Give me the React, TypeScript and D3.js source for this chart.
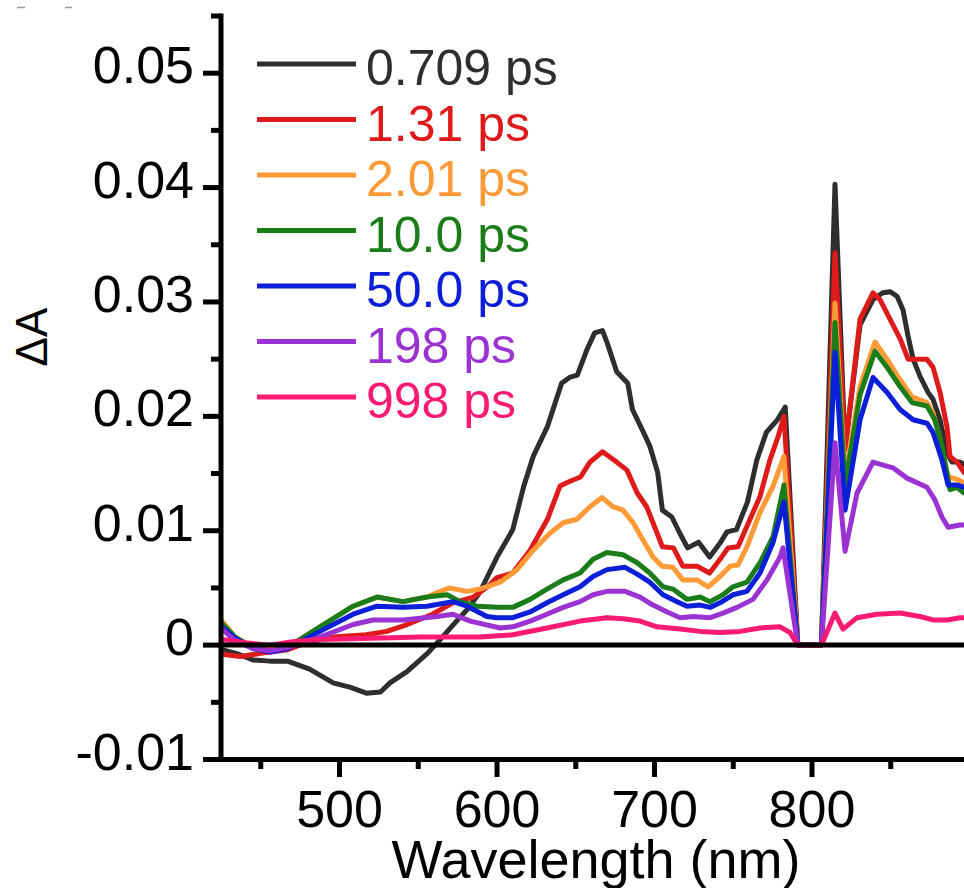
import React from "react";
import * as d3 from "d3";

type P = [number, number];

const seriesLabels = ["0.709 ps", "1.31 ps", "2.01 ps", "10.0 ps", "50.0 ps", "198 ps", "998 ps"];
const seriesColors = ["#2e2e2e", "#de1a1a", "#ff9a36", "#1a7d1a", "#0b1ed8", "#9b32d2", "#fd1a73"];

const s0709: P[] = [[425.4,-0.0004],[436,-0.0008],[445,-0.0013],[456,-0.0014],[467,-0.0014],[481,-0.0021],[496,-0.0033],[507,-0.0037],[517,-0.0042],[526,-0.0041],[532,-0.0033],[543,-0.0023],[556,-0.0007],[564,0.0005],[575,0.0022],[581,0.0031],[589,0.0046],[600,0.0077],[610,0.0101],[617,0.0139],[623,0.0165],[632,0.0191],[641,0.0229],[646,0.0234],[651,0.0236],[657,0.0258],[662,0.0273],[667,0.0275],[670,0.0264],[676,0.0239],[683,0.0229],[686,0.0206],[693,0.0186],[697,0.0174],[702,0.0151],[705,0.0118],[711,0.0112],[716,0.0098],[721,0.0085],[728,0.009],[735,0.0077],[742,0.009],[746,0.0099],[752,0.0101],[759,0.0125],[765,0.0162],[771,0.0186],[778,0.0197],[783,0.0208],[791,0],[806,0],[814.6,0.0403],[821,0.0171],[830.5,0.028],[838.7,0.0302],[845,0.0308],[849.5,0.0309],[854,0.0305],[857.8,0.0293],[861,0.027],[864.2,0.025],[868.6,0.0235],[873.7,0.0221],[876.8,0.0215],[881.3,0.0197],[885.7,0.0168],[888.9,0.016],[894,0.016],[900,0.0155]];

const s131: P[] = [[425.4,-0.0008],[437,-0.001],[451,-0.0007],[467,-0.0004],[481,0.0003],[496,0.0007],[517,0.0009],[530,0.0012],[543,0.0018],[559,0.0027],[572,0.0037],[585,0.0042],[594,0.0051],[600,0.0059],[610,0.0063],[621,0.0083],[632,0.011],[640,0.0139],[646,0.0143],[653,0.0147],[659,0.016],[667,0.0169],[676,0.016],[682.5,0.0153],[689,0.0133],[695,0.0121],[701.6,0.0098],[705,0.0086],[712,0.0085],[718,0.0069],[727,0.0069],[735,0.0063],[741.6,0.0075],[746.7,0.0085],[753,0.0086],[758.7,0.0104],[767,0.013],[773.3,0.0162],[778.4,0.0182],[782.2,0.02],[791,0],[806,0],[814.6,0.0343],[821,0.0171],[830.5,0.0285],[838.7,0.0308],[843.2,0.0302],[849.5,0.0285],[855.9,0.0268],[861,0.025],[866.7,0.025],[873,0.025],[876.8,0.0243],[881.3,0.0221],[885.7,0.0191],[887.6,0.0165],[892.1,0.016],[896.5,0.0151],[900,0.0148]];

const s201: P[] = [[425.4,0.0021],[433.7,0.0007],[445,-0.0002],[456,-0.0004],[467,-0.0002],[487.6,0.0016],[508.6,0.0034],[523.8,0.0042],[540.3,0.0038],[555.6,0.0042],[562,0.0046],[570,0.005],[581,0.0047],[589,0.0049],[602,0.0055],[612.7,0.0066],[623,0.0083],[633.7,0.0098],[642,0.0107],[650.8,0.011],[659,0.0121],[666.7,0.0129],[673.7,0.0121],[680,0.0118],[686.4,0.0107],[692.7,0.0092],[699,0.0077],[704.8,0.0069],[711.7,0.0068],[718,0.0057],[727,0.0057],[734,0.0051],[741.6,0.006],[748,0.0069],[753,0.007],[758.7,0.0086],[767,0.0116],[775.3,0.0139],[782.2,0.0165],[791,0],[806,0],[814.6,0.0299],[821,0.0147],[830.5,0.0226],[840,0.0265],[847.6,0.025],[855.9,0.0232],[863.5,0.0217],[873,0.0212],[876.8,0.0203],[881.3,0.018],[886.4,0.0147],[892.1,0.0145],[896.5,0.0142],[900,0.014]];

const s100: P[] = [[425.4,0.0019],[433.7,0.0007],[445,-0.0002],[456,-0.0005],[467,-0.0002],[487.6,0.0016],[508.6,0.0034],[523.8,0.0042],[540.3,0.0038],[555.6,0.0042],[568.3,0.0044],[576.5,0.0038],[587.3,0.0034],[600,0.0033],[610,0.0033],[621,0.004],[631.7,0.0049],[642,0.0057],[652.7,0.0063],[661,0.0075],[669.8,0.0081],[680,0.0079],[689,0.0072],[697,0.0063],[705.4,0.0051],[711.7,0.0049],[720.6,0.004],[729,0.0042],[735.3,0.0038],[743.5,0.0044],[749.8,0.0051],[758.7,0.0055],[767,0.0072],[775.3,0.0095],[782.2,0.014],[791,0],[806,0],[814.6,0.0282],[821,0.014],[830.5,0.0219],[840,0.0257],[847.6,0.0243],[855.9,0.0226],[863.5,0.0212],[873,0.0209],[878,0.0197],[882.5,0.0174],[887.6,0.0136],[892,0.0138],[896.5,0.0133],[900,0.0132]];

const s500: P[] = [[425.4,0.0016],[433.7,0.0006],[445,-0.0003],[456,-0.0006],[467,-0.0003],[487.6,0.0012],[508.6,0.0027],[523.8,0.0034],[540.3,0.0033],[555.6,0.0034],[572,0.0038],[581,0.0034],[593.6,0.0025],[600,0.0024],[610,0.0024],[621,0.0029],[631.7,0.0037],[642,0.0044],[652.7,0.0051],[661,0.006],[669.8,0.0066],[681.3,0.0068],[689,0.0062],[697,0.0055],[705.4,0.0044],[714.3,0.0038],[720.6,0.0034],[729,0.0035],[735.3,0.0033],[741.6,0.0037],[749.8,0.0044],[758.7,0.0047],[767,0.0063],[775.3,0.009],[782.2,0.0125],[791,0],[806,0],[814.6,0.0256],[821,0.0118],[830.5,0.0197],[838.7,0.0234],[847.6,0.0221],[855.9,0.0206],[864.2,0.0197],[873,0.0194],[876.8,0.0186],[882.5,0.0162],[886.4,0.014],[892,0.014],[896.5,0.0138],[900,0.0137]];

const s198: P[] = [[425.4,0.0014],[433.7,0.0004],[445,-0.0003],[456,-0.0005],[467,-0.0002],[487.6,0.0007],[508.6,0.0018],[521.3,0.0022],[540.3,0.0022],[562,0.0025],[572,0.0027],[583,0.0021],[602,0.0015],[610,0.0016],[621,0.0021],[631.7,0.0027],[642,0.0033],[652.7,0.0038],[661,0.0044],[669.8,0.0047],[681.3,0.0047],[690.8,0.0042],[699,0.0035],[708,0.0029],[716.2,0.0024],[724.5,0.0025],[735.3,0.0024],[743.5,0.0028],[752.4,0.0033],[762.5,0.004],[771.4,0.0057],[779.7,0.0077],[781.6,0.0085],[791,0],[806,0],[814.6,0.0177],[821,0.0082],[828.6,0.0133],[838.7,0.016],[851.4,0.0155],[860.3,0.0146],[873,0.0138],[878,0.0127],[882.5,0.0112],[886.4,0.0103],[894,0.0105],[900,0.0105]];

const s998: P[] = [[425.4,0.0005],[440,0.0002],[456,0.0],[470,0.0003],[487.6,0.0005],[520,0.0006],[551,0.0007],[589,0.0007],[610,0.0009],[631.7,0.0015],[652.7,0.0021],[669.8,0.0024],[680,0.0023],[690.8,0.0021],[701.6,0.0016],[716.2,0.0014],[728.9,0.0012],[741.6,0.0011],[754.3,0.0012],[767,0.0015],[779.7,0.0016],[786,0.0011],[791,0],[806,0],[814.6,0.0028],[819.7,0.0014],[828.6,0.0024],[841.3,0.0027],[855.9,0.0028],[868.6,0.0025],[876.8,0.0022],[885.7,0.0022],[894,0.0024],[900,0.0024]];

const seriesData: P[][] = [s0709, s131, s201, s100, s500, s198, s998];

const yMajor = [-0.01, 0, 0.01, 0.02, 0.03, 0.04, 0.05];
const yMinor = [-0.005, 0.005, 0.015, 0.025, 0.035, 0.045, 0.055];
const yTickLabels = ["-0.01", "0", "0.01", "0.02", "0.03", "0.04", "0.05"];
const xMajor = [500, 600, 700, 800, 900];
const xMinor = [450, 550, 650, 750, 850];
const xTickLabels = ["500", "600", "700", "800", ""];

const W = 964;
const H = 888;
const FONT = "'Liberation Sans', Arial, Helvetica, sans-serif";

export default function App() {
  const x = d3.scaleLinear().domain([425, 900]).range([221.4, 969.5]);
  const y = d3.scaleLinear().domain([-0.01, 0.055]).range([759.5, 16.0]);
  const line = d3
    .line<P>()
    .x((d) => x(d[0]))
    .y((d) => y(d[1]));
  const axX = 221;
  const legendX0 = 257;
  const legendX1 = 356;
  const legendY0 = 64;
  const legendStep = 55.5;

  return (
    <svg
      width={W}
      height={H}
      viewBox={`0 0 ${W} ${H}`}
      style={{ position: "absolute", left: 0, top: 0, background: "#fff" }}
      fontFamily={FONT}
    >
      <rect x={0} y={0} width={W} height={H} fill="#fff" />
      <defs>
        <clipPath id="plotclip">
          <rect x={axX} y={y(0.055)} width={x(900) - axX} height={y(-0.01) - y(0.055)} />
        </clipPath>
      </defs>
      <line x1={17} x2={25} y1={7.5} y2={7.5} stroke="#999" strokeWidth={1.5} />
      <line x1={65} x2={72} y1={7.5} y2={7.5} stroke="#999" strokeWidth={1.5} />

      <g clipPath="url(#plotclip)">
        {seriesData.map((d, i) => (
          <path
            key={i}
            d={line(d) || ""}
            fill="none"
            stroke={seriesColors[i]}
            strokeWidth={5}
            strokeLinejoin="round"
            strokeLinecap="round"
          />
        ))}
      </g>

      {/* zero line */}
      <line x1={axX} x2={x(900)} y1={y(0)} y2={y(0)} stroke="#000" strokeWidth={5} />

      {/* y axis */}
      <line x1={axX} x2={axX} y1={y(0.055) - 2.5} y2={y(-0.01) + 2.5} stroke="#000" strokeWidth={5} />
      {yMajor.map((v) => (
        <line key={"ym" + v} x1={203} x2={axX} y1={y(v)} y2={y(v)} stroke="#000" strokeWidth={5} />
      ))}
      {yMinor.map((v) => (
        <line key={"yn" + v} x1={211} x2={axX} y1={y(v)} y2={y(v)} stroke="#000" strokeWidth={5} />
      ))}
      {yMajor.map((v, i) => (
        <text key={"yl" + v} x={194} y={y(v) + 10} textAnchor="end" fontSize={52} fill="#000">
          {yTickLabels[i]}
        </text>
      ))}

      {/* x axis */}
      <line x1={axX} x2={x(900)} y1={y(-0.01)} y2={y(-0.01)} stroke="#000" strokeWidth={5} />
      {xMajor.map((v) => (
        <line key={"xm" + v} x1={x(v)} x2={x(v)} y1={y(-0.01)} y2={777} stroke="#000" strokeWidth={5} />
      ))}
      {xMinor.map((v) => (
        <line key={"xn" + v} x1={x(v)} x2={x(v)} y1={y(-0.01)} y2={769} stroke="#000" strokeWidth={5} />
      ))}
      {xMajor.map((v, i) => (
        <text key={"xl" + v} x={x(v)} y={827} textAnchor="middle" fontSize={52} fill="#000">
          {xTickLabels[i]}
        </text>
      ))}

      <text x={596} y={878} textAnchor="middle" fontSize={54} fill="#000">
        Wavelength (nm)
      </text>
      <text transform="translate(47,337) rotate(-90)" textAnchor="middle" fontSize={44} fill="#000">
        ΔA
      </text>

      {/* legend */}
      {seriesLabels.map((lab, i) => {
        const ly = legendY0 + i * legendStep;
        return (
          <g key={"lg" + i}>
            <line x1={legendX0} x2={legendX1} y1={ly} y2={ly} stroke={seriesColors[i]} strokeWidth={5} />
            <text x={366} y={ly + 21} fontSize={50} fill={seriesColors[i]}>
              {lab}
            </text>
          </g>
        );
      })}
    </svg>
  );
}
